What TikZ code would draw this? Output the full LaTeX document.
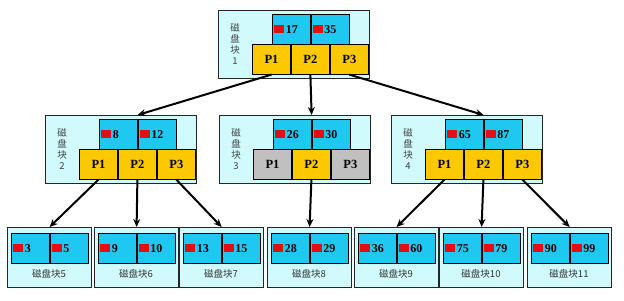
\documentclass[tikz,border=0pt]{standalone}
\usepackage{fontspec}
\setmainfont{Liberation Serif}
\newfontfamily\cjk{Noto Sans CJK SC}
\usetikzlibrary{arrows.meta,positioning,calc}
\definecolor{blkbg}{RGB}{208,250,252}
\definecolor{keybg}{RGB}{30,200,240}
\definecolor{pgold}{RGB}{252,200,0}
\definecolor{pgray}{RGB}{192,192,192}
\definecolor{sqred}{RGB}{225,15,20}
\newcommand{\redsq}{{\color{sqred}\rule{10pt}{8pt}}\hspace{1.5pt}}
\tikzset{
  blk/.style={draw=black!85, fill=blkbg, line width=0.8pt, anchor=north west,
    minimum width=151pt, minimum height=68pt, inner sep=0pt},
  leafblk/.style={blk, minimum width=84pt, minimum height=60pt},
  keycell/.style={draw=black, fill=keybg, line width=0.6pt, anchor=north west,
    minimum height=30pt, text width=34pt, inner xsep=2pt, inner ysep=0pt, align=left,
    font=\bfseries\fontsize{12}{12}\selectfont},
  pcell/.style={draw=black, line width=0.6pt, anchor=north west, minimum width=38.33pt,
    minimum height=30pt, inner sep=0pt, font=\bfseries\fontsize{12.5}{12.5}\selectfont},
  sidelbl/.style={font=\cjk\fontsize{9.5}{11}\selectfont, align=center, text=black!75},
  leaflbl/.style={font=\cjk\fontsize{9.5}{9.5}\selectfont, text=black!80},
  ptr/.style={-{Stealth[length=8pt,width=7pt]}, line width=2pt}
}
\begin{document}
\begin{tikzpicture}[x=1pt,y=-1pt]
\fill[white] (0,0) rectangle (624,300);
\useasboundingbox (0,0) rectangle (624,300);
% inner blocks
\foreach \n/\x/\y/\ka/\kb/\ca/\cc in {1/218/10/17/35/pgold/pgold, 2/45/115/8/12/pgold/pgold,
    3/219/115/26/30/pgray/pgray, 4/391/115/65/87/pgold/pgold}{
  \node[blk] (b\n) at (\x,\y) {};
  \node[sidelbl] (b\n-lbl) at (\x+17,\y+34) {磁\\盘\\块\\\n};
  \node[keycell] (b\n-k1) at (\x+54,\y+4) {\redsq\ka};
  \node[keycell] (b\n-k2) at (b\n-k1.north east) {\redsq\kb};
  \node[pcell, fill=\ca] (b\n-p1) at (\x+34,\y+34) {P1};
  \node[pcell, fill=pgold] (b\n-p2) at (b\n-p1.north east) {P2};
  \node[pcell, fill=\cc] (b\n-p3) at (b\n-p2.north east) {P3};
}
% leaf blocks
\foreach \n/\x/\ka/\kb in {5/7/3/5, 6/94/9/10, 7/179/13/15, 8/267/28/29,
    9/354/36/60, 10/439/75/79, 11/527/90/99}{
  \node[leafblk] (b\n) at (\x,227) {};
  \node[keycell] (b\n-k1) at (\x+4,233) {\redsq\ka};
  \node[keycell] (b\n-k2) at (b\n-k1.north east) {\redsq\kb};
  \node[leaflbl] (b\n-lbl) at (\x+42,274) {磁盘块\n};
}
% pointers
\foreach \s/\t in {b1-p1/b2, b1-p2/b3, b1-p3/b4, b2-p1/b5, b2-p2/b6, b2-p3/b7,
    b3-p2/b8, b4-p1/b9, b4-p2/b10, b4-p3/b11}
  \draw[ptr] (\s.south) -- (\t.north -| \t-k1.east);
\end{tikzpicture}
\end{document}
